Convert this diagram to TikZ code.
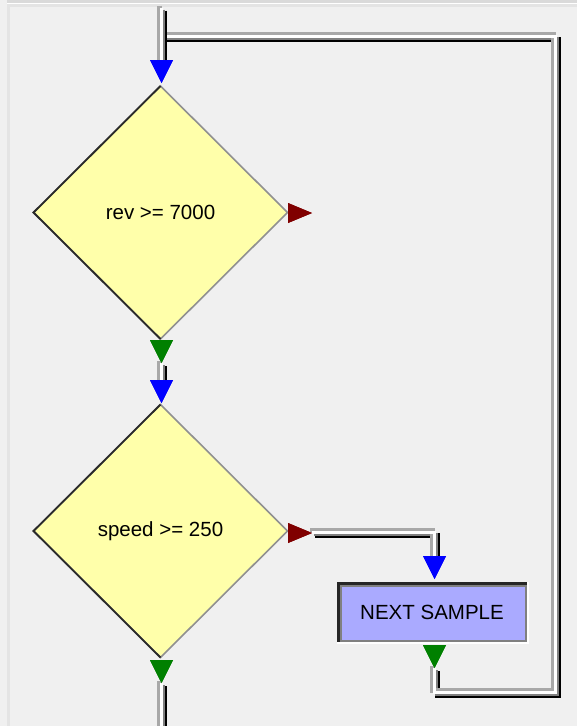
\documentclass[tikz,border=0pt]{standalone}
\usepackage{fontspec}
\setmainfont{Liberation Sans}
\usetikzlibrary{shapes.geometric}
\definecolor{bg}{HTML}{F0F0F0}
\definecolor{dyellow}{HTML}{FFFFAA}
\definecolor{boxblue}{HTML}{AAAAFF}
\definecolor{pipelight}{HTML}{A8A8A8}
\definecolor{pipemid}{HTML}{808080}
\definecolor{darkred}{HTML}{800000}
\definecolor{dgreen}{HTML}{008000}
\definecolor{topband}{HTML}{DADADA}
\definecolor{edgeband}{HTML}{E4E4E4}
\definecolor{diaedge}{HTML}{909090}
\definecolor{diadark}{HTML}{2A2A2A}
\newcommand\pipeline[1]{%
  \begin{scope}[transform canvas={shift={(2.5,2.5)}}]\draw[line width=5pt, draw=black] #1;\end{scope}
  \begin{scope}[transform canvas={shift={(1.5,1.5)}}]\draw[line width=3pt, draw=pipemid] #1;\end{scope}
  \begin{scope}[transform canvas={shift={(-2.5,-2.5)}}]\draw[line width=5pt, draw=pipelight] #1;\end{scope}
  \begin{scope}[transform canvas={shift={(-0.5,-0.5)}}]\draw[line width=3pt, draw=white] #1;\end{scope}
}
\tikzset{
  tridown/.pic={
    \fill[#1] (-11.5,0) -- (11.5,0) -- (0,23) -- cycle;
    \coordinate (-base) at (0,0);
    \coordinate (-in) at (0,8);
    \coordinate (-tip) at (0,23.5);
  },
  triright/.pic={
    \fill[#1] (0,-10) -- (0,10) -- (24,0) -- cycle;
    \coordinate (-in) at (8,0);
    \coordinate (-tip) at (24.5,0);
  },
  decision/.style={diamond, minimum width=254pt, minimum height=253pt, inner sep=0pt,
    outer sep=0pt, fill=dyellow, draw=diaedge, line width=1.6pt},
  process/.style={rectangle, minimum width=190pt, minimum height=60pt, inner sep=0pt,
    outer sep=0pt, fill=boxblue},
}
\begin{document}
\begin{tikzpicture}[x=1pt, y=-1pt, font=\fontsize{20.5}{24}\selectfont]
\useasboundingbox (0,0) rectangle (577,726);
\fill[bg] (0,0) rectangle (577,726);
\fill[topband] (7,0) rectangle (577,3);
\fill[white] (7,3) rectangle (577,4);
\fill[edgeband] (7,4) rectangle (577,7);
\fill[edgeband] (7,4) rectangle (10,726);

% decisions
\node[decision] (d1) at (160.5,212.5) {rev >= 7000};
\draw[diadark, line width=1.8pt, line join=miter] (d1.north) -- (d1.west) -- (d1.south);
\node[decision] (d2) at (160.5,531) {speed >= 250};
\draw[diadark, line width=1.8pt, line join=miter] (d2.north) -- (d2.west) -- (d2.south);

% process box
\node[process] (ns) at (432,612) {NEXT SAMPLE};
\draw[pipemid, line width=2pt] ([shift={(1,-1)}]ns.south west) rectangle ([shift={(-1,1)}]ns.north east);
\draw[black!85, line width=3.3pt] ([shift={(1.65,0)}]ns.south west) -- ([shift={(1.65,1.65)}]ns.north west) -- ([shift={(0,1.65)}]ns.north east);
\draw[pipemid, line width=1.6pt] ([shift={(4.1,-2)}]ns.south west) -- ([shift={(4.1,4.1)}]ns.north west) -- ([shift={(-2,4.1)}]ns.north east);
\draw[white, line width=1.5pt] ([shift={(0,0.75)}]ns.south west) -- ([shift={(0.75,0.75)}]ns.south east) -- ([shift={(0.75,0)}]ns.north east);

% port arrows (positions)
\coordinate (top) at (161.5,8);
\coordinate (bot) at (161.5,730);
\coordinate (c1) at (434.5,693);
\coordinate (c2) at (556,693);
\coordinate (c3) at (556,37);
\coordinate (j) at (161.5,37);

% pipes
\pic (a1) at (161.5,60) {tridown=blue};
\pic (g1) at (161.5,340) {tridown=dgreen};
\pic (a2) at (161.5,380) {tridown=blue};
\pic (g2) at (161.5,660) {tridown=dgreen};
\pic (r1) at (288,213) {triright=darkred};
\pic (r2) at (288,533) {triright=darkred};
\pic (a3) at (434.5,556) {tridown=blue};
\pic (g3) at (434.5,645) {tridown=dgreen};

\pipeline{(g3-tip) -- (c1) -- (c2) -- (c3) -- (j)}
\pipeline{(top) -- (a1-in)}
\pipeline{(g1-tip) -- (a2-in)}
\pipeline{(r2-tip) -- (r2-tip -| a3-in) -- (a3-in)}
\pipeline{(g2-tip) -- (bot)}

% redraw arrows on top of pipes
\pic at (161.5,60) {tridown=blue};
\pic at (161.5,340) {tridown=dgreen};
\pic at (161.5,380) {tridown=blue};
\pic at (161.5,660) {tridown=dgreen};
\pic at (288,213) {triright=darkred};
\pic at (288,533) {triright=darkred};
\pic at (434.5,556) {tridown=blue};
\pic at (434.5,645) {tridown=dgreen};
\end{tikzpicture}
\end{document}
